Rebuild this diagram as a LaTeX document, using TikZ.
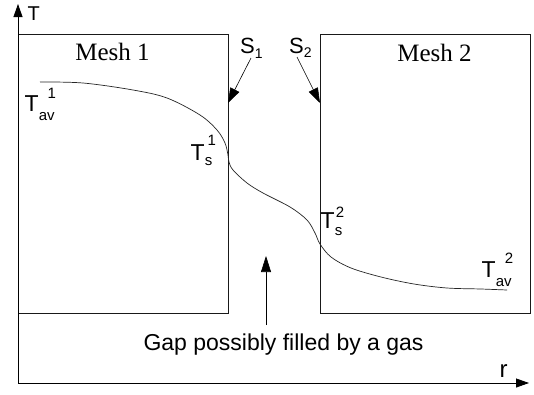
\documentclass[tikz,border=0pt]{standalone}
\usepackage{fontspec}
\setmainfont{Liberation Sans}
\newfontfamily\meshfont{Liberation Serif}
\usetikzlibrary{arrows.meta}
\newcommand\scrtxt[1]{{\fontsize{15}{15}\selectfont #1}}
\newcommand\TSS[5]{{\fontsize{23}{23}\selectfont T}\rlap{\raisebox{-#2pt}{\scrtxt{#1}}}\hspace{#5pt}\raisebox{#4pt}{\scrtxt{#3}}}
\begin{document}
\begin{tikzpicture}[x=1pt,y=-1pt,
  meshbox/.style={draw=black!90,line width=0.8pt,inner sep=0pt,minimum width=210pt,minimum height=279pt},
  axisline/.style={draw=black,line width=0.8pt,-{Triangle[length=13pt,width=9pt]}},
  ptr/.style={draw=black,line width=0.6pt,-{Triangle[length=15pt,width=10pt]}},
  lab/.style={inner sep=0pt,anchor=base west,font=\fontsize{22}{22}\selectfont},
  meshlab/.style={inner sep=0pt,anchor=base,font=\meshfont\fontsize{25}{25}\selectfont},
  curve/.style={draw=black!85,line width=0.7pt}]
\useasboundingbox (0,0) rectangle (534,394);
\fill[white] (0,0) rectangle (534,394);
% meshes
\node[meshbox] (m1) at (123,173.5) {};
\node[meshbox] (m2) at (425,173.5) {};
\node[meshlab] (mesh1) at (112.5,60) {Mesh 1};
\node[meshlab] (mesh2) at (434.5,61) {Mesh 2};
% axes
\coordinate (O) at (18,383);
\coordinate (Tend) at (18,4);
\coordinate (rend) at (529,383);
\draw[axisline] (O) -- (Tend);
\draw[axisline] (O) -- (rend);
\node[lab,font=\fontsize{20}{20}\selectfont] (Tax) at (27.5,20) {T};
\node[lab,font=\fontsize{24}{24}\selectfont] (rax) at (499.5,377) {r};
% surfaces
\node[lab] (S1) at (240,53) {S\raisebox{-5pt}{\fontsize{14}{14}\selectfont 1}};
\node[lab] (S2) at (289,53) {S\raisebox{-4pt}{\fontsize{14}{14}\selectfont 2}};
\coordinate (s1a) at (251,58);
\coordinate (s1b) at (228,103);
\coordinate (s2a) at (297,57);
\coordinate (s2b) at (320,103);
\draw[ptr] (s1a) -- (s1b);
\draw[ptr] (s2a) -- (s2b);
% temperature labels
\node[lab] (Tav1) at (24.5,111) {\TSS{av}{9}{1}{13}{8.9}};
\node[lab] (Ts1) at (190.5,160.7) {\TSS{s}{5}{1}{15}{2.9}};
\node[lab] (Ts2) at (320.5,228) {\TSS{s}{7}{2}{11}{1}};
\node[lab] (Tav2) at (481.5,277) {\TSS{av}{9}{2}{14}{9}};
% curve
\draw[curve] plot[smooth,tension=0.55] coordinates {(40,82) (83,83) (133,90) (167,98) (200,115) (217,130) (225,143) (228,155) (229,162) (233,170) (247,183) (263,193) (290,207) (307,220) (315,233) (320,244) (331,257) (351,268) (381,277) (414,284) (447,288) (481,289) (507,290)};
% gap
\node[lab,anchor=base,font=\fontsize{23}{23}\selectfont] (gap) at (283.5,350) {Gap possibly filled by a gas};
\coordinate (g1) at (266,325);
\coordinate (g2) at (266,256);
\draw[ptr,-{Triangle[length=16pt,width=10pt]}] (g1) -- (g2);
\end{tikzpicture}
\end{document}
